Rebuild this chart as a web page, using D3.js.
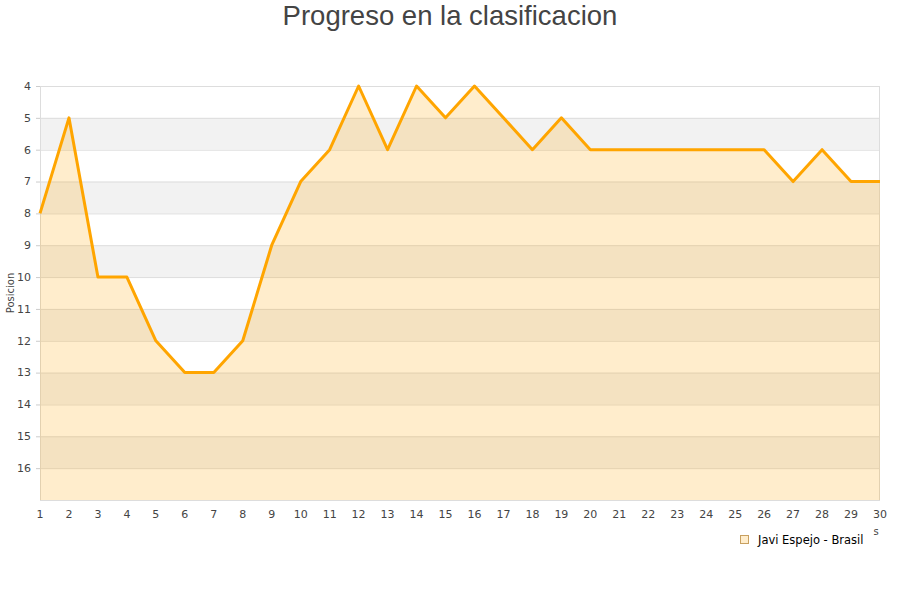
<!DOCTYPE html>
<html><head><meta charset="utf-8">
<script src="https://cdn.jsdelivr.net/npm/d3@7"></script>
<style>body{margin:0;background:#fff;} svg{display:block;}</style>
</head><body>
<svg id="c" width="900" height="600"></svg>
<script>
const jornadas = [1,2,3,4,5,6,7,8,9,10,11,12,13,14,15,16,17,18,19,20,21,22,23,24,25,26,27,28,29,30];
const posicion = [8,5,10,10,12,13,13,12,9,7,6,4,6,4,5,4,5,6,5,6,6,6,6,6,6,6,7,6,7,7];
const yTicks = [4,5,6,7,8,9,10,11,12,13,14,15,16];
const seriesName = "Javi Espejo - Brasil";
const titleText = "Progreso en la clasificacion";
const yTitle = "Posicion";

const svg = d3.select("#c");
const L = 40, R = 880, T = 86, B = 500;
const x = d3.scaleLinear().domain([1,30]).range([L,R]);
const y = d3.scaleLinear().domain([4,17]).range([T,B]);

// alternating bands
const bands = d3.range(4,17);
svg.append("g").selectAll("rect").data(bands).join("rect")
  .attr("x", L).attr("width", R-L)
  .attr("y", d=>y(d)).attr("height", d=>y(d+1)-y(d))
  .attr("fill", d=> d%2===1 ? "#f2f2f2" : "#ffffff");

// grid lines
svg.append("g").selectAll("line").data(d3.range(4,18)).join("line")
  .attr("x1", L).attr("x2", R)
  .attr("y1", d=>y(d)+0.5).attr("y2", d=>y(d)+0.5)
  .attr("stroke", "#dddddd").attr("stroke-width", 1);

// frame
svg.append("rect").attr("x", L+0.5).attr("y", T+0.5).attr("width", R-L-1).attr("height", B-T)
  .attr("fill","none").attr("stroke","#dddddd");

// area
const pts = jornadas.map((j,i)=>[j,posicion[i]]);
svg.append("path").datum(pts)
  .attr("d", d3.area().x(d=>x(d[0])).y0(B).y1(d=>y(d[1])))
  .attr("fill", "rgba(255,165,0,0.2)");
svg.append("path").datum(pts)
  .attr("d", d3.line().x(d=>x(d[0])).y(d=>y(d[1])))
  .attr("fill", "none").attr("stroke", "#ffa500").attr("stroke-width", 3)
  .attr("stroke-linejoin","round");

// y axis labels
const yg = svg.append("g");
yg.selectAll("line").data(yTicks).join("line")
  .attr("x1", L-4).attr("x2", L).attr("y1", d=>y(d)+0.5).attr("y2", d=>y(d)+0.5)
  .attr("stroke","#cccccc");
yg.selectAll("text").data(yTicks).join("text")
  .attr("x", 31).attr("y", d=>y(d)).attr("dy","0.35em")
  .attr("text-anchor","end")
  .attr("font-family","DejaVu Sans").attr("font-size",11).attr("fill","#444")
  .text(d=>d);

// x axis labels
svg.append("g").selectAll("text").data(jornadas).join("text")
  .attr("x", d=>x(d)).attr("y", 518)
  .attr("text-anchor","middle")
  .attr("font-family","DejaVu Sans").attr("font-size",11).attr("fill","#444")
  .text(d=>d);

// y title
svg.append("text").attr("transform","translate(14,293) rotate(-90)")
  .attr("text-anchor","middle")
  .attr("font-family","DejaVu Sans").attr("font-size",10).attr("fill","#444")
  .text(yTitle);

// clipped x title fragment
svg.append("text").attr("x", 876).attr("y", 535).attr("text-anchor","middle")
  .attr("font-family","DejaVu Sans").attr("font-size",10).attr("fill","#444")
  .text("s");

// title
svg.append("text").attr("x", 450).attr("y", 25).attr("text-anchor","middle")
  .attr("font-family","Liberation Sans, Arial").attr("font-size",27.5).attr("fill","#444")
  .text(titleText);

// legend
svg.append("rect").attr("x", 740.5).attr("y", 535.5).attr("width", 8).attr("height", 8)
  .attr("fill","#ffedcc").attr("stroke","#c8a060");
svg.append("text").attr("x", 758).attr("y", 540).attr("dy","0.35em")
  .attr("font-family","DejaVu Sans").attr("font-size",11.5).attr("fill","#000")
  .text(seriesName);
</script>
</body></html>
